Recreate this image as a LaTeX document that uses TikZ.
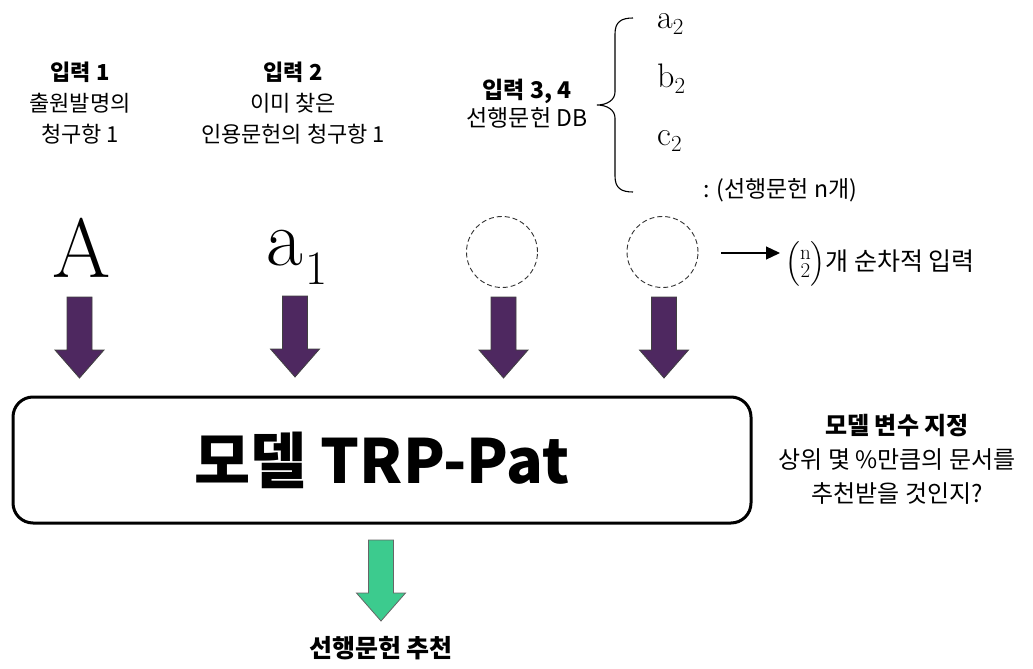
\documentclass[tikz,border=0pt]{standalone}
\usepackage{amsmath}
\usepackage[no-math]{fontspec}
\setmainfont{Noto Sans CJK KR}
\newfontfamily\lmr{Latin Modern Roman}
\usetikzlibrary{arrows.meta}
\definecolor{arrowpurple}{HTML}{4E2860}
\definecolor{arrowgreen}{HTML}{3CCB8E}
\newcommand{\nchoosetwo}{{\fontsize{24}{24}\selectfont$\Bigl(\vcenter{\hbox{\lmr\fontsize{21}{21}\selectfont\shortstack{n\\[1pt]2}}}\Bigr)$}}
\begin{document}
\begin{tikzpicture}[x=1pt,y=-1pt,
  txt/.style={align=center, font=\fontsize{22}{31}\selectfont, inner sep=0},
  dcirc/.style={circle, draw=black!80, dash pattern=on 5pt off 3pt, line width=0.9pt, minimum size=71pt, inner sep=0},
  modelbox/.style={draw, line width=3pt, rounded corners=20pt, minimum width=738pt, minimum height=126pt, inner sep=0},
  blockarrow/.pic={\path[pic actions] (-12.5,0) -- (12.5,0) -- (12.5,53) -- (24.5,53) -- (0,81) -- (-24.5,53) -- (-12.5,53) -- cycle;},
  parrow/.style={fill=arrowpurple, draw=black!75, line width=0.8pt},
  garrow/.style={fill=arrowgreen, draw=black!60, line width=0.8pt},
  bigsym/.style={inner sep=0, anchor=base west},
  listsym/.style={bigsym, font=\lmr\fontsize{34}{34}\selectfont},
]
\useasboundingbox (0,0) rectangle (1033,669);

% input texts
\node[txt] (in1) at (80,103) {\textbf{입력 1}\\출원발명의\\청구항 1};
\node[txt] (in2) at (293,103) {\textbf{입력 2}\\이미 찾은\\인용문헌의 청구항 1};
\node[txt, font=\fontsize{23}{28}\selectfont] (in3) at (527,104) {\textbf{입력 3, 4}\\선행문헌 DB};

% brace and list
\draw[line width=1.1pt] (633,18) .. controls (621,18) and (615,22) .. (615,34) -- (615,92) .. controls (615,100) and (607,105) .. (597,105) .. controls (607,105) and (615,110) .. (615,118) -- (615,176) .. controls (615,188) and (621,192) .. (633,192);
\node[listsym] (a2) at (657,29) {a\raisebox{-6pt}{\fontsize{23}{23}\selectfont 2}};
\node[listsym] (b2) at (657,87) {b\raisebox{-6pt}{\fontsize{23}{23}\selectfont 2}};
\node[listsym] (c2) at (657,145) {c\raisebox{-6pt}{\fontsize{23}{23}\selectfont 2}};
\node[bigsym, font=\fontsize{23}{23}\selectfont] (more) at (703,197) {: (선행문헌 n개)};

% symbols
\node[inner sep=0, anchor=base, font=\lmr\fontsize{84}{84}\selectfont] (A) at (81.5,277) {A};
\node[bigsym, font=\lmr\fontsize{80}{80}\selectfont] (a1) at (266,265) {a\kern3pt\raisebox{-19pt}{\fontsize{48}{48}\selectfont 1}};
\node[dcirc] (c3) at (502,252) {};
\node[dcirc] (c4) at (662.5,252) {};

% binomial note
\coordinate (ls) at (721,253);
\node[bigsym, inner xsep=0pt, font=\fontsize{25}{25}\selectfont] (bin) at (780,270) {\hspace{5pt}\nchoosetwo 개 순차적 입력};
\draw[line width=1.2pt, -{Triangle[length=14pt,width=13pt]}] (ls) -- (ls -| bin.west);

% arrows to model
\pic[parrow] at (79.5,297) {blockarrow};
\pic[parrow] at (295,296) {blockarrow};
\pic[parrow] at (503.5,297) {blockarrow};
\pic[parrow] at (664,297) {blockarrow};

% model
\node[modelbox, font=\bfseries\fontsize{61}{61}\selectfont] (model) at (382,460) {모델 TRP-Pat};

% parameter text
\node[txt, font=\fontsize{24}{34}\selectfont] (param) at (897,459) {\textbf{모델 변수 지정}\\상위 몇 \%만큼의 문서를\\추천받을 것인지?};

% output
\pic[garrow] at (381,540) {blockarrow};
\node[font=\bfseries\fontsize{25}{25}\selectfont, inner sep=0] (out) at (381,648) {선행문헌 추천};
\end{tikzpicture}
\end{document}
